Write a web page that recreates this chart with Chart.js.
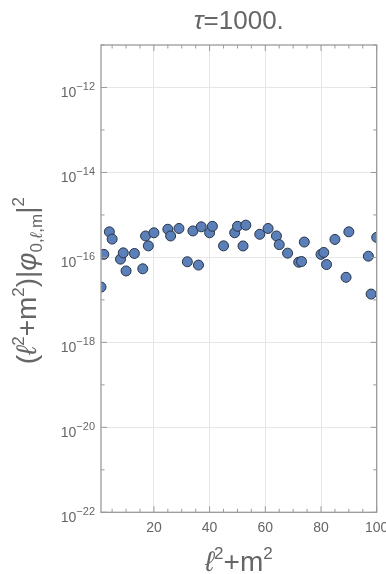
<!DOCTYPE html>
<html lang="en">
<head>
    <meta charset="UTF-8">
    <title>tau=1000</title>
    <script src="https://cdn.jsdelivr.net/npm/chart.js"></script>
    <style>
        html, body { margin: 0; padding: 0; background: #fff; overflow: hidden; }
        #myChart { display: block; }
    </style>
</head>
<body>
    <canvas id="myChart" width="386" height="574"></canvas>
    <script>
        // l^2+m^2 values
        const lm2 = [1, 2, 4, 5, 8, 9, 10, 13, 16, 17, 18, 20, 25, 26, 29, 32, 34, 36, 37, 40, 41, 45,
            49, 50, 52, 53, 58, 61, 64, 65, 68, 72, 73, 74, 80, 81, 82, 85, 89, 90, 97, 98, 100];
        // (l^2+m^2)|phi|^2
        const phiVals = [2.0e-17, 1.18e-16, 4.0e-16, 2.7e-16, 9.1e-17, 1.28e-16, 4.8e-17, 1.24e-16, 5.4e-17,
            3.2e-16, 1.87e-16, 3.8e-16, 4.6e-16, 3.2e-16, 4.8e-16, 7.9e-17, 4.2e-16, 6.6e-17, 5.25e-16,
            3.8e-16, 5.4e-16, 1.87e-16, 3.8e-16, 5.4e-16, 1.86e-16, 5.75e-16, 3.5e-16, 4.8e-16, 3.2e-16,
            2.0e-16, 1.26e-16, 7.7e-17, 8.0e-17, 2.3e-16, 1.18e-16, 1.31e-16, 6.8e-17, 2.65e-16, 3.4e-17,
            4.0e-16, 1.07e-16, 1.37e-17, 2.96e-16];
        const xTicks = [20, 40, 60, 80, 100];
        const yTicks = [1e-22, 1e-20, 1e-18, 1e-16, 1e-14, 1e-12];

        const FONT = '"Liberation Sans", Arial, sans-serif';
        const gray = '#666';

        // text with superscripts/subscripts; align 'center' or 'right' about x=0
        function richText(ctx, parts, align) {
            let w = 0;
            parts.forEach(p => {
                ctx.font = (p.it ? 'italic ' : '') + p.s + 'px ' + FONT;
                p.w = ctx.measureText(p.t).width;
                w += p.w;
            });
            let x = align === 'right' ? -w : -w / 2;
            parts.forEach(p => {
                ctx.font = (p.it ? 'italic ' : '') + p.s + 'px ' + FONT;
                ctx.fillText(p.t, x, p.dy || 0);
                x += p.w;
            });
        }

        const framePlugin = {
            id: 'frame',
            afterDraw(chart) {
                const ctx = chart.ctx;
                const a = chart.chartArea;
                const xs = chart.scales.x, ys = chart.scales.y;
                ctx.save();
                ctx.strokeStyle = '#9a9a9a';
                ctx.lineWidth = 1.3;
                ctx.strokeRect(a.left, a.top, a.right - a.left, a.bottom - a.top);
                ctx.lineWidth = 1;
                ctx.beginPath();
                for (let v = 5; v <= 100; v += 5) {
                    const px = xs.getPixelForValue(v);
                    const len = v % 20 === 0 ? 6 : 3.5;
                    ctx.moveTo(px, a.bottom); ctx.lineTo(px, a.bottom - len);
                    ctx.moveTo(px, a.top); ctx.lineTo(px, a.top + len);
                }
                for (let e = -22; e <= -11; e++) {
                    const py = ys.getPixelForValue(Math.pow(10, e));
                    const len = e % 2 === 0 ? 6 : 3.5;
                    ctx.moveTo(a.left, py); ctx.lineTo(a.left + len, py);
                    ctx.moveTo(a.right, py); ctx.lineTo(a.right - len, py);
                }
                ctx.stroke();

                ctx.fillStyle = gray;
                ctx.textBaseline = 'alphabetic';
                ctx.textAlign = 'left';

                // y tick labels 10^n
                ys.ticks.forEach(t => {
                    const py = ys.getPixelForValue(t.value);
                    const e = Math.round(Math.log10(t.value));
                    ctx.save();
                    ctx.translate(a.left - 6, py);
                    richText(ctx, [{ t: '10', s: 14, dy: 10 }, { t: (e < 0 ? '\u2212' : '') + Math.abs(e), s: 11, dy: 3 }], 'right');
                    ctx.restore();
                });

                // titles
                const cx = (a.left + a.right) / 2;
                ctx.save();
                ctx.translate(cx, 29);
                richText(ctx, [{ t: 'τ', s: 26, it: true }, { t: '=1000.', s: 26 }]);
                ctx.restore();

                ctx.save();
                ctx.translate(cx, 571);
                richText(ctx, [{ t: 'ℓ', s: 28, it: true }, { t: '2', s: 17, dy: -12 },
                    { t: '+m', s: 28 }, { t: '2', s: 17, dy: -12 }]);
                ctx.restore();

                ctx.save();
                ctx.translate(36, (a.top + a.bottom) / 2 + 2);
                ctx.rotate(-Math.PI / 2);
                richText(ctx, [{ t: '(', s: 28 }, { t: 'ℓ', s: 28, it: true }, { t: '2', s: 17, dy: -12 },
                    { t: '+m', s: 28 }, { t: '2', s: 17, dy: -12 }, { t: ')|', s: 28 },
                    { t: 'φ', s: 28, it: true }, { t: '0,', s: 17, dy: 6 }, { t: 'ℓ', s: 17, it: true, dy: 6 },
                    { t: ',m', s: 17, dy: 6 }, { t: '|', s: 28 }, { t: '2', s: 17, dy: -12 }]);
                ctx.restore();
                ctx.restore();
            }
        };

        const ctx = document.getElementById('myChart');
        const mychart = new Chart(ctx, {
            type: 'scatter',
            data: {
                datasets: [{
                    label: 'phi',
                    data: lm2.map((x, i) => ({ x: x, y: phiVals[i] })),
                    backgroundColor: '#5b80b9',
                    borderColor: '#283447',
                    borderWidth: 1,
                    pointRadius: 5,
                    pointHoverRadius: 5
                }]
            },
            options: {
                responsive: false,
                animation: false,
                devicePixelRatio: 1,
                layout: { padding: { top: 45, right: 9.3, left: 0, bottom: 0 } },
                plugins: {
                    legend: { display: false },
                    tooltip: { enabled: false }
                },
                scales: {
                    x: {
                        type: 'linear',
                        min: 1,
                        max: 100,
                        afterBuildTicks: s => { s.ticks = xTicks.map(v => ({ value: v })); },
                        afterFit: s => { s.height = 61.7; s.paddingLeft = 0; s.paddingRight = 0; },
                        grid: { color: '#e6e6e6', drawTicks: false },
                        border: { display: false },
                        ticks: {
                            color: gray,
                            padding: 7,
                            maxRotation: 0,
                            font: { size: 14, family: FONT }
                        }
                    },
                    y: {
                        type: 'logarithmic',
                        min: 1e-22,
                        max: 1e-11,
                        afterBuildTicks: s => { s.ticks = yTicks.map(v => ({ value: v })); },
                        afterFit: s => { s.width = 101; s.paddingTop = 0; s.paddingBottom = 0; },
                        grid: { color: '#e6e6e6', drawTicks: false },
                        border: { display: false },
                        ticks: { display: false }
                    }
                }
            },
            plugins: [framePlugin]
        });
    </script>
</body>
</html>
